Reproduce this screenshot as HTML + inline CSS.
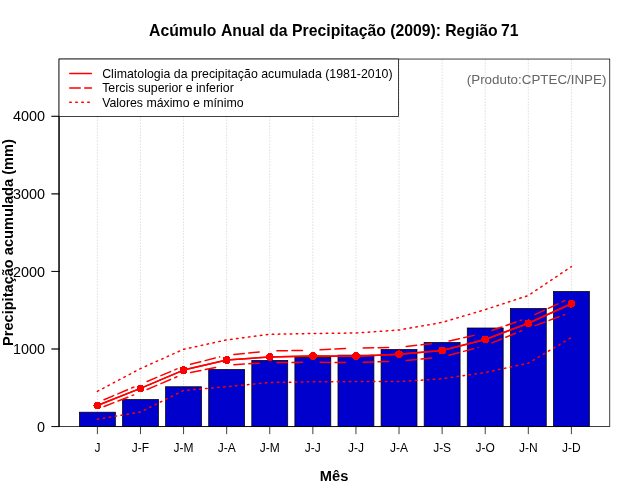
<!DOCTYPE html>
<html><head><meta charset="utf-8"><title>Chart</title>
<style>html,body{margin:0;padding:0;background:#fff;}body{width:640px;height:500px;overflow:hidden;}svg{display:block;position:absolute;left:0;top:0;will-change:transform;}text{font-family:"Liberation Sans",sans-serif;}</style>
</head><body>
<svg width="640" height="500" viewBox="0 0 640 500">
<rect x="0" y="0" width="640" height="500" fill="#ffffff"/>
<g stroke="#d3d3d3" stroke-width="0.75" stroke-dasharray="0.75 2.25" stroke-linecap="round" fill="none">
<line x1="97.39" y1="426.56" x2="97.39" y2="59.04"/>
<line x1="140.48" y1="426.56" x2="140.48" y2="59.04"/>
<line x1="183.57" y1="426.56" x2="183.57" y2="59.04"/>
<line x1="226.67" y1="426.56" x2="226.67" y2="59.04"/>
<line x1="269.76" y1="426.56" x2="269.76" y2="59.04"/>
<line x1="312.85" y1="426.56" x2="312.85" y2="59.04"/>
<line x1="355.94" y1="426.56" x2="355.94" y2="59.04"/>
<line x1="399.03" y1="426.56" x2="399.03" y2="59.04"/>
<line x1="442.13" y1="426.56" x2="442.13" y2="59.04"/>
<line x1="485.22" y1="426.56" x2="485.22" y2="59.04"/>
<line x1="528.31" y1="426.56" x2="528.31" y2="59.04"/>
<line x1="571.40" y1="426.56" x2="571.40" y2="59.04"/>
</g>
<g fill="#0000cd" stroke="#000000" stroke-width="0.75">
<rect x="79.44" y="412.20" width="35.91" height="14.36"/>
<rect x="122.53" y="399.50" width="35.91" height="27.06"/>
<rect x="165.62" y="386.75" width="35.91" height="39.81"/>
<rect x="208.71" y="369.50" width="35.91" height="57.06"/>
<rect x="251.80" y="360.40" width="35.91" height="66.16"/>
<rect x="294.89" y="357.40" width="35.91" height="69.16"/>
<rect x="337.99" y="355.10" width="35.91" height="71.46"/>
<rect x="381.08" y="349.50" width="35.91" height="77.06"/>
<rect x="424.17" y="342.50" width="35.91" height="84.06"/>
<rect x="467.26" y="328.00" width="35.91" height="98.56"/>
<rect x="510.35" y="308.50" width="35.91" height="118.06"/>
<rect x="553.45" y="291.50" width="35.91" height="135.06"/>
</g>
<rect x="59.04" y="59.04" width="550.72" height="367.52" fill="none" stroke="#000" stroke-width="0.75"/>
<g stroke="#000" stroke-width="0.75" fill="none" stroke-linecap="round">
<line x1="59.04" y1="426.56" x2="59.04" y2="116.32"/>
<line x1="59.04" y1="426.56" x2="51.84" y2="426.56"/>
<line x1="59.04" y1="349.00" x2="51.84" y2="349.00"/>
<line x1="59.04" y1="271.44" x2="51.84" y2="271.44"/>
<line x1="59.04" y1="193.88" x2="51.84" y2="193.88"/>
<line x1="59.04" y1="116.32" x2="51.84" y2="116.32"/>
<line x1="59.04" y1="426.56" x2="59.04" y2="116.32"/>
<line x1="59.04" y1="426.56" x2="51.84" y2="426.56"/>
<line x1="59.04" y1="349.00" x2="51.84" y2="349.00"/>
<line x1="59.04" y1="271.44" x2="51.84" y2="271.44"/>
<line x1="59.04" y1="193.88" x2="51.84" y2="193.88"/>
<line x1="59.04" y1="116.32" x2="51.84" y2="116.32"/>
<line x1="97.39" y1="426.56" x2="571.40" y2="426.56"/>
<line x1="97.39" y1="426.56" x2="97.39" y2="433.76"/>
<line x1="140.48" y1="426.56" x2="140.48" y2="433.76"/>
<line x1="183.57" y1="426.56" x2="183.57" y2="433.76"/>
<line x1="226.67" y1="426.56" x2="226.67" y2="433.76"/>
<line x1="269.76" y1="426.56" x2="269.76" y2="433.76"/>
<line x1="312.85" y1="426.56" x2="312.85" y2="433.76"/>
<line x1="355.94" y1="426.56" x2="355.94" y2="433.76"/>
<line x1="399.03" y1="426.56" x2="399.03" y2="433.76"/>
<line x1="442.13" y1="426.56" x2="442.13" y2="433.76"/>
<line x1="485.22" y1="426.56" x2="485.22" y2="433.76"/>
<line x1="528.31" y1="426.56" x2="528.31" y2="433.76"/>
<line x1="571.40" y1="426.56" x2="571.40" y2="433.76"/>
</g>
<g font-size="14.4" text-anchor="end" fill="#000">
<text x="45.14" y="431.66">0</text>
<text x="45.14" y="354.10">1000</text>
<text x="45.14" y="276.54">2000</text>
<text x="45.14" y="198.98">3000</text>
<text x="45.14" y="121.42">4000</text>
</g>
<g font-size="12" text-anchor="middle" fill="#000">
<text x="97.39" y="452">J</text>
<text x="140.48" y="452">J-F</text>
<text x="183.57" y="452">J-M</text>
<text x="226.67" y="452">J-A</text>
<text x="269.76" y="452">J-M</text>
<text x="312.85" y="452">J-J</text>
<text x="355.94" y="452">J-J</text>
<text x="399.03" y="452">J-A</text>
<text x="442.13" y="452">J-S</text>
<text x="485.22" y="452">J-O</text>
<text x="528.31" y="452">J-N</text>
<text x="571.40" y="452">J-D</text>
</g>
<g fill="none" stroke="#ff0000" stroke-width="1.5" stroke-linecap="round" stroke-linejoin="round">
<polyline points="97.39,405.50 140.48,388.40 183.57,370.10 226.67,360.00 269.76,356.90 312.85,356.00 355.94,356.15 399.03,354.30 442.13,350.50 485.22,339.45 528.31,323.30 571.40,303.75"/>
<polyline points="97.39,405.50 140.48,388.40 183.57,370.10 226.67,360.00 269.76,356.90 312.85,356.00 355.94,356.15 399.03,354.30 442.13,350.50 485.22,339.45 528.31,323.30 571.40,303.75"/>
<polyline points="97.39,391.35 140.48,368.60 183.57,349.30 226.67,339.90 269.76,334.30 312.85,333.50 355.94,333.00 399.03,330.00 442.13,322.40 485.22,309.60 528.31,295.50 571.40,266.60" stroke-dasharray="1.5 4.5"/>
<polyline points="97.39,419.25 140.48,412.00 183.57,390.50 226.67,386.70 269.76,382.50 312.85,381.75 355.94,381.60 399.03,381.60 442.13,378.75 485.22,372.50 528.31,363.20 571.40,337.50" stroke-dasharray="1.5 4.5"/>
<line x1="104.02" y1="399.70" x2="133.85" y2="387.10" stroke-dasharray="10.5 4.5"/>
<line x1="147.11" y1="381.50" x2="176.94" y2="368.90" stroke-dasharray="10.5 4.5"/>
<line x1="190.55" y1="364.32" x2="219.69" y2="356.88" stroke-dasharray="10.5 4.5"/>
<line x1="233.83" y1="354.42" x2="262.59" y2="351.68" stroke-dasharray="10.5 4.5"/>
<line x1="276.96" y1="350.87" x2="305.65" y2="350.33" stroke-dasharray="10.5 4.5"/>
<line x1="320.04" y1="349.85" x2="348.75" y2="348.45" stroke-dasharray="10.5 4.5"/>
<line x1="363.14" y1="347.95" x2="391.84" y2="347.35" stroke-dasharray="10.5 4.5"/>
<line x1="406.19" y1="346.44" x2="434.97" y2="343.41" stroke-dasharray="10.5 4.5"/>
<line x1="449.14" y1="341.05" x2="478.20" y2="334.40" stroke-dasharray="10.5 4.5"/>
<line x1="492.02" y1="330.43" x2="521.51" y2="320.12" stroke-dasharray="10.5 4.5"/>
<line x1="534.83" y1="314.69" x2="564.89" y2="300.56" stroke-dasharray="10.5 4.5"/>
<line x1="104.10" y1="406.48" x2="133.77" y2="394.92" stroke-dasharray="10.5 4.5"/>
<line x1="147.11" y1="389.49" x2="176.95" y2="376.81" stroke-dasharray="10.5 4.5"/>
<line x1="190.63" y1="372.55" x2="219.61" y2="366.60" stroke-dasharray="10.5 4.5"/>
<line x1="233.85" y1="364.71" x2="262.57" y2="362.94" stroke-dasharray="10.5 4.5"/>
<line x1="276.96" y1="362.47" x2="305.65" y2="362.33" stroke-dasharray="10.5 4.5"/>
<line x1="320.05" y1="362.34" x2="348.74" y2="362.51" stroke-dasharray="10.5 4.5"/>
<line x1="363.14" y1="362.32" x2="391.84" y2="361.43" stroke-dasharray="10.5 4.5"/>
<line x1="406.20" y1="360.52" x2="434.96" y2="357.78" stroke-dasharray="10.5 4.5"/>
<line x1="449.08" y1="355.24" x2="478.26" y2="347.46" stroke-dasharray="10.5 4.5"/>
<line x1="491.89" y1="342.89" x2="521.64" y2="330.81" stroke-dasharray="10.5 4.5"/>
<line x1="535.06" y1="325.59" x2="564.65" y2="314.61" stroke-dasharray="10.5 4.5"/>
</g>
<g fill="#ff0000" stroke="none" shape-rendering="crispEdges">
<circle cx="97.39" cy="405.50" r="3.9"/>
<circle cx="140.48" cy="388.40" r="3.9"/>
<circle cx="183.57" cy="370.10" r="3.9"/>
<circle cx="226.67" cy="360.00" r="3.9"/>
<circle cx="269.76" cy="356.90" r="3.9"/>
<circle cx="312.85" cy="356.00" r="3.9"/>
<circle cx="355.94" cy="356.15" r="3.9"/>
<circle cx="399.03" cy="354.30" r="3.9"/>
<circle cx="442.13" cy="350.50" r="3.9"/>
<circle cx="485.22" cy="339.45" r="3.9"/>
<circle cx="528.31" cy="323.30" r="3.9"/>
<circle cx="571.40" cy="303.75" r="3.9"/>
</g>
<rect x="59.04" y="59.04" width="339.36" height="57.46" fill="#fff" stroke="#000" stroke-width="0.75"/>
<g fill="none" stroke="#ff0000" stroke-width="1.5" stroke-linecap="round">
<line x1="69.75" y1="73.5" x2="91.45" y2="73.5"/>
<line x1="69.75" y1="87.9" x2="91.45" y2="87.9" stroke-dasharray="10.5 4.5"/>
<line x1="69.75" y1="102.3" x2="91.45" y2="102.3" stroke-dasharray="1.5 4.5"/>
</g>
<g font-size="12.33" fill="#000">
<text x="102.2" y="77.6" textLength="290.4">Climatologia da precipitação acumulada (1981-2010)</text>
<text x="102.2" y="92">Tercis superior e inferior</text>
<text x="102.2" y="106.8" textLength="141.3">Valores máximo e mínimo</text>
</g>
<text x="606.4" y="83.5" font-size="13.37" text-anchor="end" fill="#666666">(Produto:CPTEC/INPE)</text>
<text y="35.6" font-size="15.75" font-weight="bold" fill="#000"><tspan x="149.07">Acúmulo</tspan><tspan x="220.93">Anual</tspan><tspan x="269.15">da</tspan><tspan x="292.12">Precipitação</tspan><tspan x="390.27">(2009):</tspan><tspan x="445.20">Região</tspan><tspan x="501.10">71</tspan></text>
<text x="334.1" y="481" font-size="14.65" font-weight="bold" text-anchor="middle" fill="#000">Mês</text>
<text transform="translate(13,242.6) rotate(-90)" font-size="14.6" font-weight="bold" text-anchor="middle" fill="#000">Precipitação acumulada (mm)</text>
</svg>
</body></html>
